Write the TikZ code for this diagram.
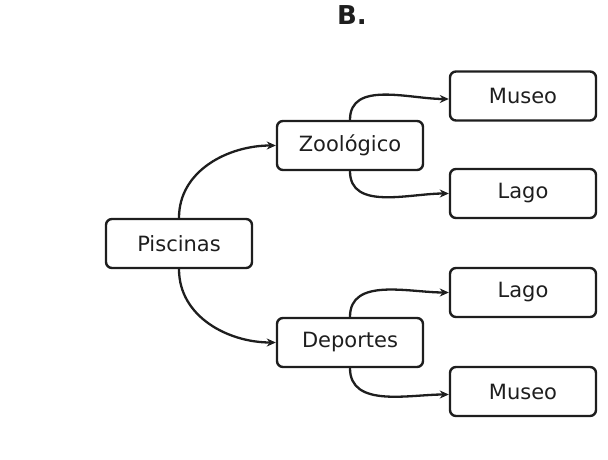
\documentclass[tikz,border=0pt]{standalone}
\usepackage{fontspec}
\setmainfont{DejaVu Sans}
\usetikzlibrary{arrows.meta}
\definecolor{ink}{HTML}{1E1E1E}
\begin{document}
\begin{tikzpicture}[x=1pt,y=-1pt,
  box/.style={draw=ink, text=ink, line width=2.4pt, rounded corners=6pt, minimum width=146pt, minimum height=49pt, inner sep=0pt, font=\fontsize{21}{24}\selectfont},
  conn/.style={draw=ink, line width=2.3pt, -{Stealth[length=9pt,width=8pt]}}]
\useasboundingbox (0,0) rectangle (608,460);
\node[text=ink, font=\bfseries\fontsize{26}{30}\selectfont] (title) at (352,15) {B.};
\node[box] (p) at (179,243.5) {Piscinas};
\node[box] (z) at (350,145.5) {Zoológico};
\node[box] (d) at (350,342.5) {Deportes};
\node[box] (m1) at (523,96) {Museo};
\node[box] (l1) at (523,193.5) {Lago};
\node[box] (l2) at (523,292.5) {Lago};
\node[box] (m2) at (523,391.5) {Museo};
\draw[conn] (p.north) to[out=90,in=180] (z.west);
\draw[conn] (p.south) to[out=-90,in=180] (d.west);
\draw[conn] (z.north) to[out=90,in=180] ([yshift=-3pt]m1.west);
\draw[conn] (z.south) to[out=-90,in=180] (l1.west);
\draw[conn] (d.north) to[out=90,in=180] (l2.west);
\draw[conn] (d.south) to[out=-90,in=180] ([yshift=-3pt]m2.west);
\end{tikzpicture}
\end{document}
